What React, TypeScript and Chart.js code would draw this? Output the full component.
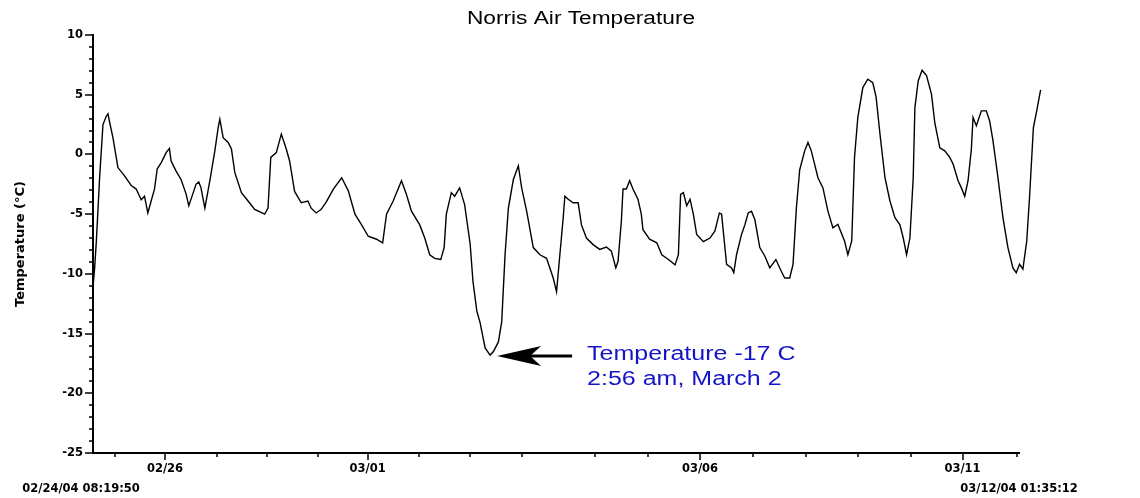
import React, { useEffect, useRef } from "react";
import { Chart, registerables } from "chart.js";

Chart.register(...registerables);

const chartTitle = "Norris Air Temperature";
const yAxisTitle = "Temperature (°C)";
const startLabel = "02/24/04 08:19:50";
const endLabel = "03/12/04 01:35:12";
const noteLines = ["Temperature -17 C", "2:56 am, March 2"];

// days elapsed since 02/24/04 08:19:50
const dayOffsets = [
  0.0, 0.03, 0.06, 0.12, 0.18, 0.24, 0.27, 0.3, 0.36, 0.45, 0.57, 0.69, 0.78, 0.87, 0.93, 0.99,
  1.05, 1.11, 1.16, 1.23, 1.32, 1.38, 1.41, 1.5, 1.59, 1.68, 1.73, 1.81, 1.86, 1.91, 1.95,
  2.02, 2.11, 2.2, 2.26, 2.29, 2.35, 2.44, 2.5, 2.56, 2.68, 2.8, 2.92,
  3.1, 3.16, 3.21, 3.31, 3.4, 3.49, 3.55, 3.64, 3.76, 3.88, 3.94,
  4.03, 4.12, 4.21, 4.34, 4.49, 4.61, 4.73, 4.85, 4.97,
  5.12, 5.23, 5.3, 5.42, 5.57, 5.66, 5.75, 5.9, 5.99,
  6.08, 6.17, 6.28, 6.34, 6.38, 6.47, 6.53, 6.62, 6.71, 6.81, 6.86, 6.93, 6.99,
  7.08, 7.17, 7.23, 7.32, 7.38, 7.44, 7.5, 7.59, 7.68, 7.74, 7.83, 7.95,
  8.07, 8.19, 8.31, 8.37, 8.42, 8.49, 8.52, 8.58, 8.67, 8.76, 8.82, 8.91,
  9.03, 9.15, 9.27, 9.36, 9.44, 9.48, 9.54, 9.57, 9.63, 9.69, 9.75, 9.84, 9.9, 9.93,
  10.05, 10.18, 10.27, 10.39, 10.51, 10.57, 10.61, 10.66, 10.72, 10.78, 10.84, 10.9,
  11.02, 11.14, 11.23, 11.31, 11.35, 11.44, 11.53, 11.57, 11.62, 11.71, 11.77, 11.83, 11.89, 11.95,
  12.04, 12.13, 12.22, 12.33, 12.43, 12.49, 12.58, 12.64, 12.7, 12.76, 12.85, 12.91, 12.97,
  13.09, 13.18, 13.27, 13.36, 13.45, 13.51, 13.57, 13.63, 13.7, 13.75, 13.81, 13.9, 13.99,
  14.08, 14.14, 14.21, 14.3, 14.39, 14.48, 14.57, 14.63, 14.69, 14.75, 14.81, 14.84, 14.9, 14.97,
  15.05, 15.14, 15.2, 15.29, 15.38, 15.47, 15.53, 15.62, 15.68, 15.74, 15.8, 15.86, 15.89, 15.95,
  16.04, 16.13, 16.19, 16.25, 16.34, 16.43, 16.52, 16.61, 16.67, 16.73, 16.79, 16.86, 16.91, 16.98,
  17.04, 17.11,
];

const temperatures = [
  -11.1, -9.5, -7.3, -1.9, 2.5, 3.2, 3.4, 2.7, 1.4, -1.1, -1.8, -2.6, -2.9, -3.8, -3.5, -4.9,
  -3.9, -2.9, -1.2, -0.7, 0.15, 0.5, -0.55, -1.4, -2.1, -3.3, -4.3, -3.2, -2.5, -2.3, -2.8,
  -4.5, -2.2, 0.3, 2.25, 2.95, 1.4, 1.0, 0.45, -1.5, -3.2, -3.9, -4.6,
  -5.0, -4.5, -0.25, 0.15, 1.7, 0.45, -0.55, -3.1, -4.05, -3.9, -4.5,
  -4.9, -4.6, -4.0, -2.9, -1.95, -3.05, -5.0, -5.9, -6.85,
  -7.1, -7.4, -5.0, -3.9, -2.2, -3.35, -4.75, -5.9, -7.0,
  -8.4, -8.7, -8.8, -7.8, -5.0, -3.2, -3.5, -2.8, -4.2, -7.5, -10.6, -13.1, -14.1,
  -16.2, -16.8, -16.5, -15.7, -14.0, -8.4, -4.5, -2.1, -0.95, -2.8, -4.75, -7.8,
  -8.4, -8.7, -10.35, -11.5, -8.9, -5.3, -3.5, -3.75, -4.05, -4.05, -5.9, -7.0,
  -7.55, -7.95, -7.75, -8.1, -9.5, -8.95, -5.6, -2.9, -2.9, -2.2, -2.9, -3.75, -5.0, -6.3,
  -7.1, -7.4, -8.4, -8.8, -9.25, -8.4, -3.35, -3.2, -4.3, -3.75, -5.0, -6.7,
  -7.3, -7.0, -6.4, -4.9, -5.0, -9.2, -9.5, -9.9, -8.4, -6.7, -5.9, -4.9, -4.75, -5.45,
  -7.8, -8.5, -9.5, -8.8, -9.8, -10.35, -10.35, -9.2, -4.5, -1.3, 0.3, 1.0, 0.3,
  -1.95, -2.8, -4.75, -6.15, -5.85, -6.55, -7.25, -8.4, -7.25, -0.25, 3.1, 5.6, 6.3,
  6.0, 4.8, 1.7, -1.95, -3.9, -5.3, -5.9, -7.0, -8.4, -7.0, -1.95, 3.9, 6.15, 7.05,
  6.6, 5.05, 2.65, 0.55, 0.3, -0.25, -0.8, -2.2, -2.8, -3.5, -2.2, 0.45, 3.1, 2.4,
  3.65, 3.65, 2.8, 1.15, -1.95, -5.3, -7.8, -9.5, -9.9, -9.2, -9.6, -7.25, -3.6, 2.25,
  3.65, 5.4,
];

const xTickDays = [
  0.4, 1.3, 2.24, 3.14, 4.06, 4.96, 5.88, 6.81, 7.74, 9.06, 10.02, 10.96, 11.91, 12.87, 13.81,
  14.77, 15.7, 16.68,
];
const xTickLabels = [
  "", "02/26", "", "", "", "03/01", "", "", "", "", "", "03/06", "", "", "", "", "03/11", "",
];
const xAxisMin = 0;
const xAxisMax = 16.72;
const yMin = -25;
const yMax = 10;
const yMajorStep = 5;
const yMinorStep = 1;

function drawStretched(ctx: CanvasRenderingContext2D, text: string, x: number, y: number, sx: number) {
  ctx.save();
  ctx.translate(x, y);
  ctx.scale(sx, 1);
  ctx.fillText(text, 0, 0);
  ctx.restore();
}

const decorPlugin = {
  id: "decor",
  afterDraw(chart: any) {
    const ctx: CanvasRenderingContext2D = chart.ctx;
    const { left, right, bottom } = chart.chartArea;
    const xs = chart.scales.x;
    const ys = chart.scales.y;
    ctx.save();
    ctx.strokeStyle = "#000";
    ctx.lineWidth = 1.5;
    xs.ticks.forEach((t: any, i: number) => {
      const px = Math.round(xs.getPixelForValue(t.value));
      const len = xTickLabels[i] ? 7 : 4;
      ctx.beginPath();
      ctx.moveTo(px, bottom);
      ctx.lineTo(px, bottom + len);
      ctx.stroke();
    });
    ys.ticks.forEach((t: any) => {
      const py = Math.round(ys.getPixelForValue(t.value));
      const len = t.value % yMajorStep === 0 ? 8 : 4;
      ctx.beginPath();
      ctx.moveTo(left, py);
      ctx.lineTo(left - len, py);
      ctx.stroke();
    });

    // title
    ctx.fillStyle = "#000";
    ctx.font = "18px 'Liberation Sans', Arial, sans-serif";
    ctx.textAlign = "center";
    ctx.textBaseline = "middle";
    drawStretched(ctx, chartTitle, (left + right) / 2 + 25, 19, 1.26);

    // start / end stamps
    ctx.font = "bold 11.5px 'DejaVu Sans', sans-serif";
    ctx.fillText(startLabel, left - 12, bottom + 36);
    ctx.fillText(endLabel, right, bottom + 36);

    // annotation at the minimum
    let minIdx = 0;
    temperatures.forEach((v, i) => {
      if (v < temperatures[minIdx]) minIdx = i;
    });
    const mx = xs.getPixelForValue(dayOffsets[minIdx]);
    const my = ys.getPixelForValue(temperatures[minIdx]);
    const tipX = mx + 7;
    const tipY = my + 1;
    ctx.fillStyle = "#000";
    ctx.beginPath();
    ctx.moveTo(tipX, tipY);
    ctx.lineTo(tipX + 44, tipY - 10);
    ctx.lineTo(tipX + 33, tipY);
    ctx.lineTo(tipX + 44, tipY + 10);
    ctx.closePath();
    ctx.fill();
    ctx.lineWidth = 3;
    ctx.beginPath();
    ctx.moveTo(tipX + 30, tipY);
    ctx.lineTo(tipX + 75, tipY);
    ctx.stroke();

    ctx.fillStyle = "#1414c8";
    ctx.font = "20px 'Liberation Sans', Arial, sans-serif";
    ctx.textAlign = "left";
    ctx.textBaseline = "alphabetic";
    drawStretched(ctx, noteLines[0], mx + 97, my + 5, 1.25);
    drawStretched(ctx, noteLines[1], mx + 97, my + 30, 1.25);
    ctx.restore();
  },
};

export default function App() {
  const canvasRef = useRef<HTMLCanvasElement | null>(null);

  useEffect(() => {
    if (!canvasRef.current) return;
    const points = dayOffsets.map((d, i) => ({ x: d, y: temperatures[i] }));
    const tickFont = { family: "'DejaVu Sans', sans-serif", size: 11.5, weight: "bold" as const };
    const chart = new Chart(canvasRef.current, {
      type: "line",
      data: {
        datasets: [
          {
            data: points,
            borderColor: "#000",
            borderWidth: 1.4,
            pointRadius: 0,
            tension: 0,
            fill: false,
            clip: false as any,
          },
        ],
      },
      options: {
        responsive: false,
        animation: false,
        devicePixelRatio: 1,
        layout: { padding: { top: 35, right: 121, bottom: 0, left: 0 } },
        plugins: {
          legend: { display: false },
          title: { display: false },
          tooltip: { enabled: false },
        },
        scales: {
          x: {
            type: "linear",
            bounds: "data",
            afterDataLimits: (s: any) => {
              s.min = xAxisMin;
              s.max = xAxisMax;
            },
            afterBuildTicks: (s: any) => {
              s.ticks = xTickDays.map((v) => ({ value: v }));
            },
            afterFit: (s: any) => {
              s.height = 45;
            },
            grid: { display: false, drawTicks: false },
            border: { display: true, color: "#000", width: 2 },
            ticks: {
              autoSkip: false,
              maxRotation: 0,
              minRotation: 0,
              padding: 9,
              color: "#000",
              font: tickFont,
              callback: (_v: any, i: number) => xTickLabels[i] ?? "",
            },
          },
          y: {
            type: "linear",
            min: yMin,
            max: yMax,
            afterFit: (s: any) => {
              s.width = 93;
            },
            grid: { display: false, drawTicks: false },
            border: { display: true, color: "#000", width: 2 },
            ticks: {
              stepSize: yMinorStep,
              autoSkip: false,
              padding: 10,
              color: "#000",
              font: tickFont,
              callback: (v: any) => (Number(v) % yMajorStep === 0 ? String(v) : ""),
            },
            title: {
              display: true,
              text: yAxisTitle,
              color: "#000",
              font: { family: "'DejaVu Sans', sans-serif", size: 13, weight: "bold" },
              padding: { top: 13, bottom: 0 },
            },
          },
        },
      },
      plugins: [decorPlugin],
    });
    return () => chart.destroy();
  }, []);

  return (
    <div style={{ position: "absolute", left: 0, top: 0, width: 1140, height: 498, background: "#fff" }}>
      <canvas ref={canvasRef} width={1140} height={498} style={{ display: "block" }} />
    </div>
  );
}
